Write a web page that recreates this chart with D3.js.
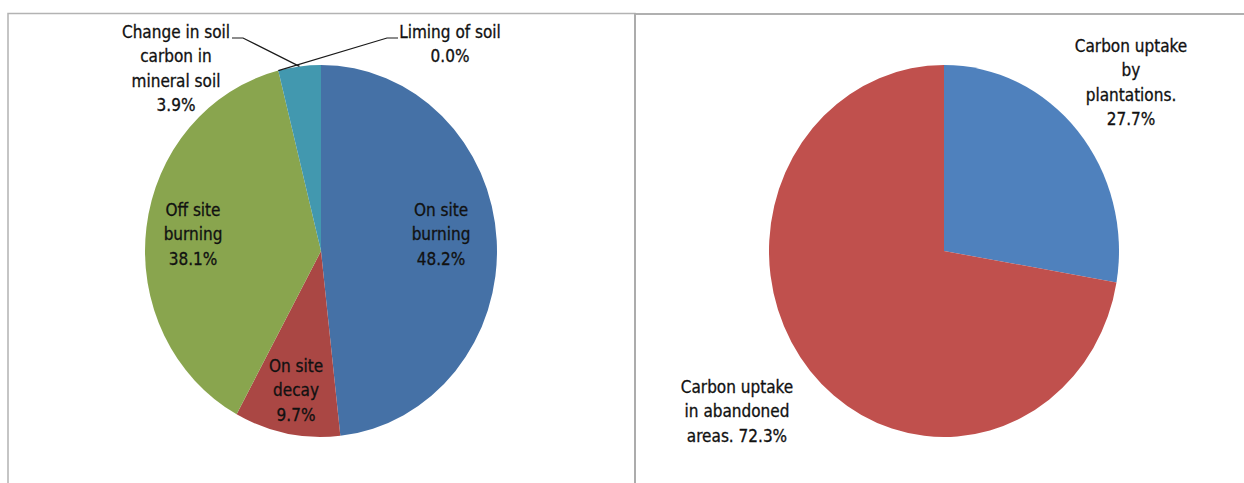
<!DOCTYPE html>
<html>
<head>
<meta charset="utf-8">
<script src="https://cdn.jsdelivr.net/npm/d3@7"></script>
<style>
  html, body { margin: 0; padding: 0; background: #fff; }
  svg { display: block; }
  text { font-family: "Liberation Sans Narrow", "DejaVu Sans Condensed", "Liberation Sans", sans-serif; fill: #111; stroke: #111; stroke-width: 0.3px; }
</style>
</head>
<body>
<svg id="chart" width="1244" height="483"></svg>
<script>
// Left pie: emission sources
const emissionCategories = ["On site burning", "On site decay", "Off site burning", "Liming of soil", "Change in soil carbon in mineral soil"];
const emissionValues = [48.2, 9.7, 38.1, 0.0, 3.9];
const emissionColors = ["#4571a6", "#aa4744", "#89a54e", "#71588f", "#4298af"];
const emissionLabelLines = [
  ["On site", "burning", "48.2%"],
  ["On site", "decay", "9.7%"],
  ["Off site", "burning", "38.1%"],
  ["Liming of soil", "0.0%"],
  ["Change in soil", "carbon in", "mineral soil", "3.9%"]
];

// Right pie: carbon uptake
const uptakeCategories = ["Carbon uptake by plantations.", "Carbon uptake in abandoned areas."];
const uptakeValues = [27.7, 72.3];
const uptakeColors = ["#4f81bd", "#c0504d"];
const uptakeLabelLines = [
  ["Carbon uptake", "by", "plantations.", "27.7%"],
  ["Carbon uptake", "in abandoned", "areas. 72.3%"]
];

const svg = d3.select("#chart");

// panel frames
svg.append("rect").attr("x", 8).attr("y", 13.5).attr("width", 627).attr("height", 520)
  .attr("fill", "none").attr("stroke", "#b3b3b3").attr("stroke-width", 1.5);
svg.append("line").attr("x1", 635).attr("x2", 1244).attr("y1", 14).attr("y2", 14)
  .attr("stroke", "#b0b0b0").attr("stroke-width", 2);
svg.append("line").attr("x1", 635).attr("x2", 635).attr("y1", 13).attr("y2", 483)
  .attr("stroke", "#acacac").attr("stroke-width", 2);

const R = 186;          // vertical radius
const SX = 176 / 186;   // horizontal squash of the pies
const FS = 17;
const LH = 24.4;

function drawPie(values, colors, cx, cy, rxScale) {
  const pie = d3.pie().sort(null).value(d => d);
  const arcs = pie(values);
  const arc = d3.arc().innerRadius(0).outerRadius(R);
  const g = svg.append("g").attr("transform", `translate(${cx},${cy}) scale(${rxScale},1)`);
  g.selectAll("path").data(arcs).join("path")
    .attr("d", arc)
    .attr("fill", (d, i) => colors[i])
    .attr("stroke", "none");
  return arcs;
}

function drawLabel(lines, x, yFirst, anchor) {
  const t = svg.append("text").attr("text-anchor", anchor || "middle").attr("font-size", FS);
  lines.forEach((s, i) => {
    t.append("tspan").attr("x", x).attr("y", yFirst + i * LH).text(s);
  });
}

// point on a squashed pie rim at a given angle (0 = top, clockwise)
function rim(cx, cy, sx, angle, r) {
  return [cx + Math.sin(angle) * r * sx, cy - Math.cos(angle) * r];
}

// ---- left pie
const lcx = 321, lcy = 251;
const leftArcs = drawPie(emissionValues, emissionColors, lcx, lcy, SX);

drawLabel(emissionLabelLines[0], 441, 216);
drawLabel(emissionLabelLines[1], 296, 372);
drawLabel(emissionLabelLines[2], 193, 216);
drawLabel(emissionLabelLines[3], 450, 38);
drawLabel(emissionLabelLines[4], 176, 38);

// leader lines for the thin slices
const mid = d => (d.startAngle + d.endAngle) / 2;
const limingEnd = rim(lcx, lcy, SX, mid(leftArcs[3]), R);
const changeEnd = rim(lcx, lcy, SX, mid(leftArcs[4]), R);
svg.append("polyline")
  .attr("points", [[232, 38], [243, 38], changeEnd].map(p => p.join(",")).join(" "))
  .attr("fill", "none").attr("stroke", "#1a1a1a").attr("stroke-width", 1.2);
svg.append("polyline")
  .attr("points", [[398, 38], [387, 38], limingEnd].map(p => p.join(",")).join(" "))
  .attr("fill", "none").attr("stroke", "#1a1a1a").attr("stroke-width", 1.2);

// ---- right pie
const rcx = 944, rcy = 251;
drawPie(uptakeValues, uptakeColors, rcx, rcy, 175 / 186);
drawLabel(uptakeLabelLines[0], 1131, 52);
drawLabel(uptakeLabelLines[1], 737, 393);
</script>
</body>
</html>
